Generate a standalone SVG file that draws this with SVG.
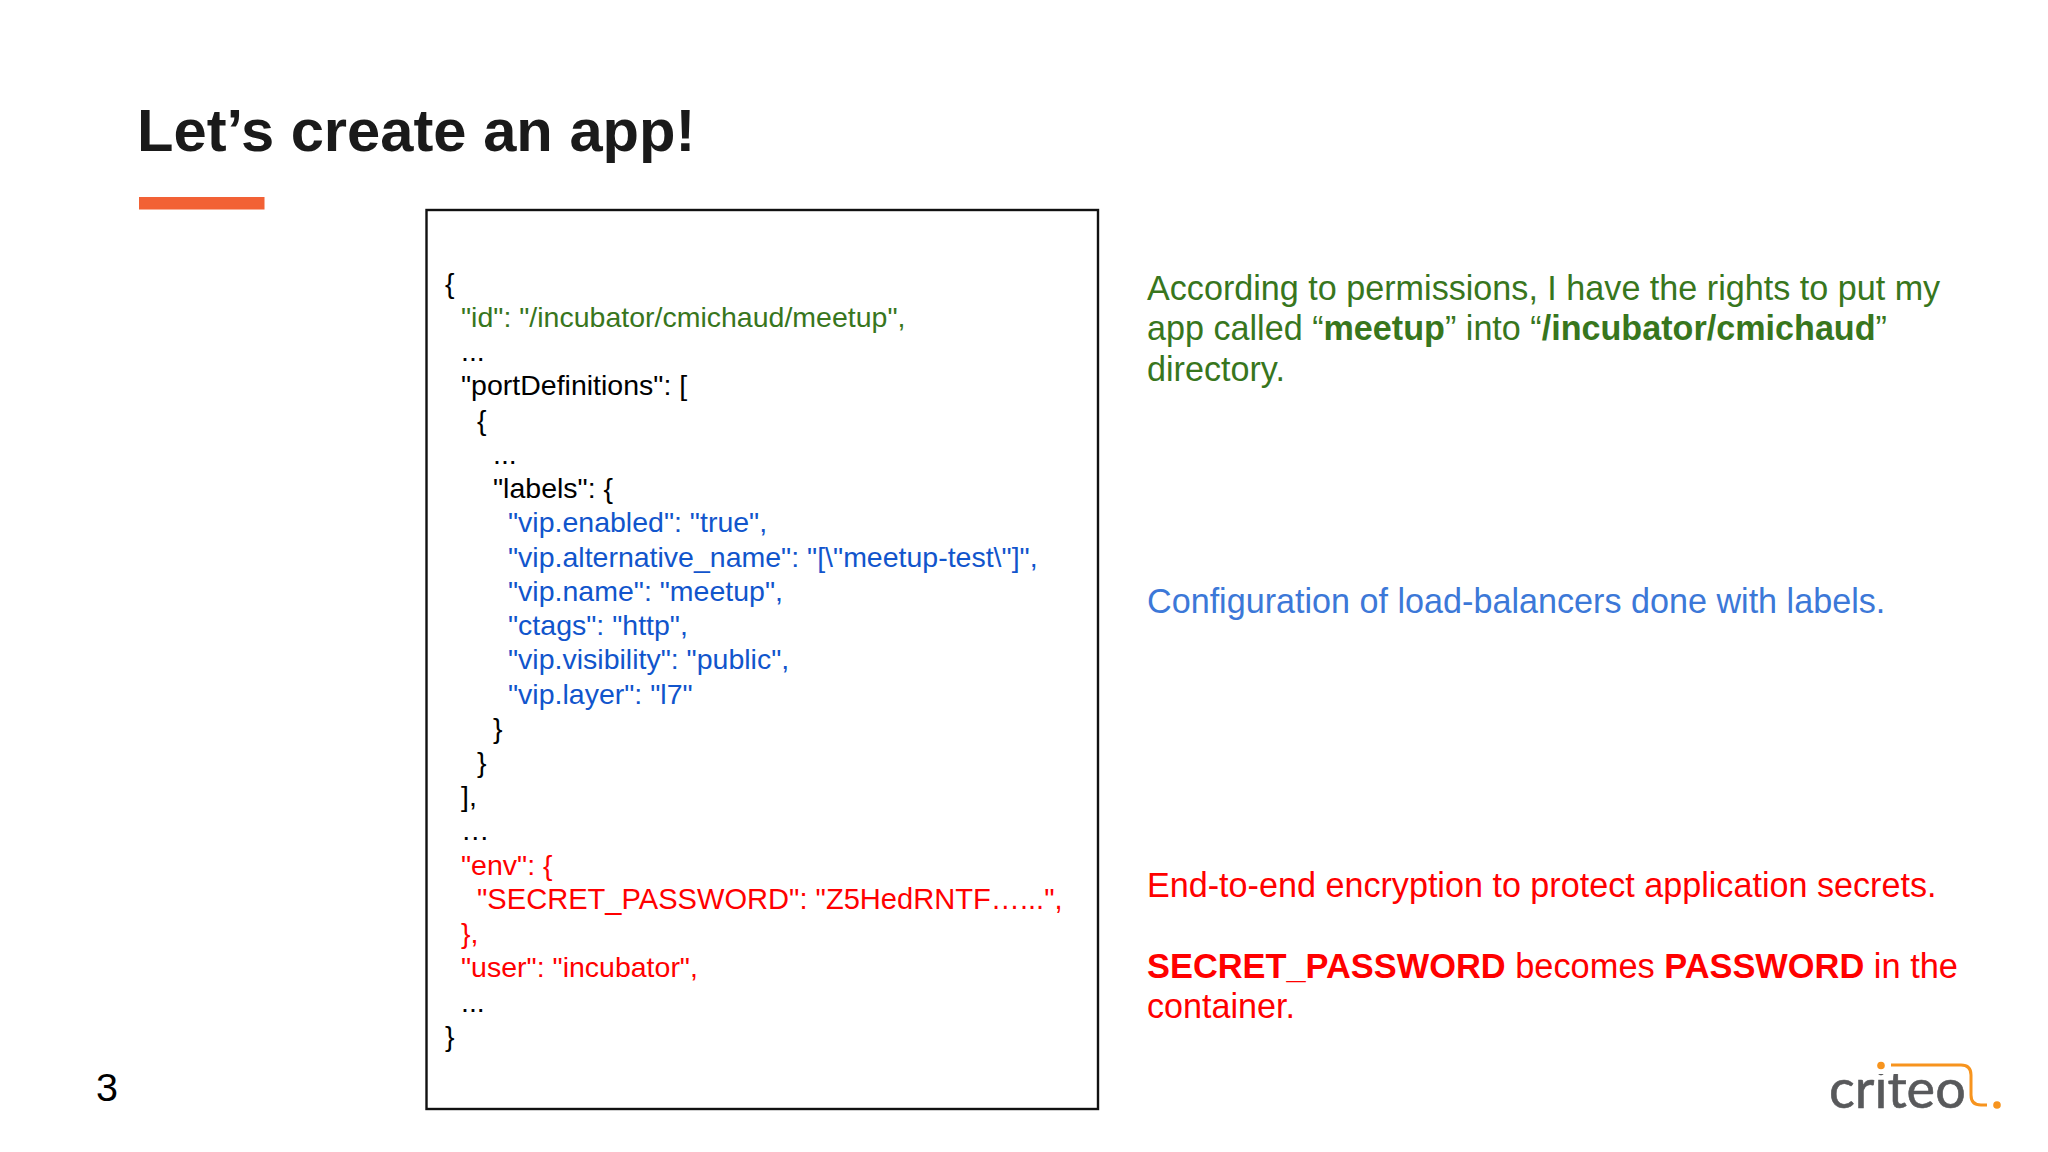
<svg xmlns="http://www.w3.org/2000/svg" width="2048" height="1152" viewBox="0 0 2048 1152">
<style>
text{font-family:"Liberation Sans",Arial,sans-serif;white-space:pre}
.c{font-size:28.5px;fill:#000}
.g{fill:#38761d}.b{fill:#1155cc}.r{fill:#f00}
.n{font-size:34.15px}
.blue{fill:#3c78d8}
tspan.s{font-weight:bold}
</style>
<defs><clipPath id="logoClip"><rect x="1820" y="1074" width="150" height="40"/></clipPath></defs>
<rect width="2048" height="1152" fill="#fff"/>
<g id="title"><text x="137" y="151" font-size="59.7" font-weight="bold" fill="#1a1a1a">Let’s create an app!</text></g>
<rect id="accent" x="139" y="197" width="125.5" height="12.5" fill="#f26135"/>
<g id="code-box">
<rect x="426.5" y="210" width="671.5" height="899" fill="#fff" stroke="#111" stroke-width="2.4"/>
<g transform="translate(0,-1.2)">
<text class="c" x="445" y="294">{</text>
<text class="c g" x="461" y="328">"id": "/incubator/cmichaud/meetup",</text>
<text class="c" x="461" y="362.5">...</text>
<text class="c" x="461" y="396.7">"portDefinitions": [</text>
<text class="c" x="477" y="431">{</text>
<text class="c" x="493" y="465">...</text>
<text class="c" x="493" y="499.4">"labels": {</text>
<text class="c b" x="508" y="533.6">"vip.enabled": "true",</text>
<text class="c b" x="508" y="567.8">"vip.alternative_name": "[\"meetup-test\"]",</text>
<text class="c b" x="508" y="602">"vip.name": "meetup",</text>
<text class="c b" x="508" y="636.3">"ctags": "http",</text>
<text class="c b" x="508" y="670.5">"vip.visibility": "public",</text>
<text class="c b" x="508" y="704.8">"vip.layer": "l7"</text>
<text class="c" x="493" y="739">}</text>
<text class="c" x="477" y="773.2">}</text>
<text class="c" x="461" y="807.5">],</text>
<text class="c" x="461" y="841.7">…</text>
<text class="c r" x="461" y="875.9">"env": {</text>
<text class="c r" x="477" y="910.1" style="font-size:29.1px">"SECRET_PASSWORD": "Z5HedRNTF…...",</text>
<text class="c r" x="461" y="944.4">},</text>
<text class="c r" x="461" y="978.6">"user": "incubator",</text>
<text class="c" x="461" y="1012.8">...</text>
<text class="c" x="445" y="1047">}</text>
</g>
</g>
<g id="note-permissions">
<text class="n g" x="1147" y="299.5">According to permissions, I have the rights to put my</text>
<text class="n g" x="1147" y="340">app called “<tspan class="s">meetup</tspan>” into “<tspan class="s">/incubator/cmichaud</tspan>”</text>
<text class="n g" x="1147" y="380.5">directory.</text>
</g>
<g id="note-labels">
<text class="n blue" x="1147" y="612.5">Configuration of load-balancers done with labels.</text>
</g>
<g id="note-secrets">
<text class="n r" x="1147" y="896.8">End-to-end encryption to protect application secrets.</text>
<text class="n r" x="1147" y="977.8" style="font-size:34.4px"><tspan class="s">SECRET_PASSWORD</tspan> becomes <tspan class="s">PASSWORD</tspan> in the</text>
<text class="n r" x="1147" y="1017.5">container.</text>
</g>
<g id="page-number"><text x="96" y="1101" font-size="39.5" fill="#000">3</text></g>
<g id="logo">
<text x="1829" y="1108" font-size="54" fill="#58595b" stroke="#58595b" stroke-width="0.6" style="font-family:Lato,sans-serif" clip-path="url(#logoClip)">criteo</text>
<circle cx="1881" cy="1065.5" r="3.8" fill="#f7941e"/>
<path d="M1891 1065H1961Q1971 1065 1971 1075V1095Q1971 1105 1981 1105H1987" fill="none" stroke="#f7941e" stroke-width="3"/>
<circle cx="1997" cy="1105" r="3.8" fill="#f7941e"/>
</g>
</svg>
